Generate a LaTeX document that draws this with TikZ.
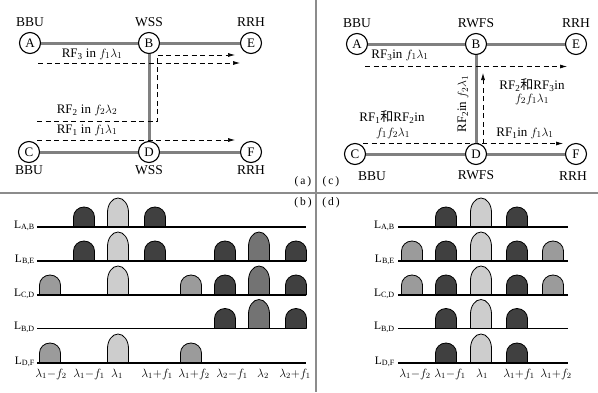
\documentclass[tikz,border=0pt]{standalone}
\usepackage{fontspec}
\setmainfont{Liberation Serif}
\newfontfamily\cjk{Noto Sans CJK SC}
\usetikzlibrary{arrows.meta, positioning}
\definecolor{fibergray}{RGB}{128,128,128}
\definecolor{framegray}{RGB}{140,140,140}
\definecolor{pkdark}{RGB}{64,64,64}
\definecolor{pklight}{RGB}{205,205,205}
\definecolor{pkmid}{RGB}{115,115,115}
\definecolor{pkside}{RGB}{155,155,155}

\begin{document}
\begin{tikzpicture}[
    x=1pt, y=-1pt,
    station/.style={
        circle,
        draw,
        line width=1.1pt,
        inner sep=0pt,
        minimum size=21pt,
        font=\fontsize{13}{15}\selectfont
    },
    tag/.style={font=\fontsize{13.5}{16}\selectfont, inner sep=1pt},
    sig/.style={font=\fontsize{13}{15}\selectfont, inner sep=0pt},
    fiber/.style={line width=3pt, draw=fibergray},
    flow/.style={-{Latex[length=7pt,width=4pt]}, dashed, dash pattern=on 5pt off 3.5pt, line width=0.7pt},
    hump/.style={draw=black, line width=0.8pt, fill=#1},
    axisline/.style={line width=1.3pt},
    lname/.style={anchor=base east, font=\fontsize{11.5}{13}\selectfont, inner sep=0pt},
    freq/.style={anchor=base, font=\fontsize{12}{14}\selectfont, inner sep=0pt},
    panel/.style={font=\fontsize{11.5}{13}\selectfont, inner sep=0pt}
]
    \useasboundingbox (0,0) rectangle (598,392);

    % Frame
    \draw[framegray, line width=1.2pt] (0,193) -- (598,193);
    \draw[framegray, line width=1.2pt] (316,0) -- (316,392);
    \node[panel] (pa) at (303,182) {(\,a\,)};
    \node[panel] (pc) at (331,182) {(\,c\,)};
    \node[panel] (pb) at (303,203) {(\,b\,)};
    \node[panel] (pd) at (331,203) {(\,d\,)};

    % (a) WSS network
    \node[station] (aA) at (30,43) {A};
    \node[station] (aB) at (149,43) {B};
    \node[station] (aE) at (251,43) {E};
    \node[station] (aC) at (29,152) {C};
    \node[station] (aD) at (149,152) {D};
    \node[station] (aF) at (251,152) {F};

    \draw[fiber] (aA) -- (aB);
    \draw[fiber] (aB) -- (aE);
    \draw[fiber] (aC) -- (aD);
    \draw[fiber] (aD) -- (aF);
    \draw[fiber] (aB) -- (aD);

    \node[tag, above=4pt of aA] (aAt) {BBU};
    \node[tag, above=4pt of aB] (aBt) {WSS};
    \node[tag, above=4pt of aE] (aEt) {RRH};
    \node[tag, below=1.5pt of aC] (aCt) {BBU};
    \node[tag, below=1.5pt of aD] (aDt) {WSS};
    \node[tag, below=1.5pt of aF] (aFt) {RRH};

    % (a) signals
    \coordinate (a3s) at (38,63);
    \coordinate (a3e) at (240,63);
    \coordinate (a2s) at (37,121.5);
    \coordinate (a2k) at (157,55);
    \coordinate (a2e) at (235,55);
    \coordinate (a1s) at (37,140);
    \coordinate (a1e) at (235,140);
    \draw[flow] (a3s) -- (a3e);
    \draw[flow] (a2s) -| (a2k) -- (a2e);
    \draw[flow] (a1s) -- (a1e);
    \node[sig] (a3l) at (92,54) {RF\textsubscript{3} in $f_1\lambda_1$};
    \node[sig] (a2l) at (87,110) {RF\textsubscript{2} in $f_2\lambda_2$};
    \node[sig] (a1l) at (87,130) {RF\textsubscript{1} in $f_1\lambda_1$};

    % (c) RWFS network
    \node[station] (cA) at (357,44) {A};
    \node[station] (cB) at (476,44) {B};
    \node[station] (cE) at (576,44) {E};
    \node[station] (cC) at (355,154) {C};
    \node[station] (cD) at (476,154) {D};
    \node[station] (cF) at (576,154) {F};

    \draw[fiber] (cA) -- (cB);
    \draw[fiber] (cB) -- (cE);
    \draw[fiber] (cC) -- (cD);
    \draw[fiber] (cD) -- (cF);
    \draw[fiber] (cB) -- (cD);

    \node[tag, above=4pt of cA] (cAt) {BBU};
    \node[tag, above=4pt of cB] (cBt) {RWFS};
    \node[tag, above=4pt of cE] (cEt) {RRH};
    \node[tag] (cCt) at (372,176) {BBU};
    \node[tag, below=4pt of cD] (cDt) {RWFS};
    \node[tag] (cFt) at (573,176) {RRH};

    % (c) signals
    \coordinate (c3s) at (365,66.5);
    \coordinate (c3e) at (567,66.5);
    \coordinate (c1s) at (363,143.5);
    \coordinate (c1e) at (563,143.5);
    \coordinate (cus) at (483,143.5);
    \coordinate (cue) at (483,73);
    \draw[flow] (c3s) -- (c3e);
    \draw[flow] (c1s) -- (c1e);
    \draw[flow] (cus) -- (cue);
    \node[sig] (c3l) at (400,55) {RF\textsubscript{3}in $f_1\lambda_1$};
    \node[sig, rotate=90] (cvl) at (463,104) {RF\textsubscript{2}in $f_2\lambda_1$};
    \node[sig] (c23l) at (532,85) {RF\textsubscript{2}{\cjk 和}RF\textsubscript{3}in};
    \node[sig] (c23f) at (532,99) {$f_2f_1\lambda_1$};
    \node[sig] (c12l) at (392,117) {RF\textsubscript{1}{\cjk 和}RF\textsubscript{2}in};
    \node[sig] (c12f) at (393,133) {$f_1f_2\lambda_1$};
    \node[sig] (c1l) at (525,133) {RF\textsubscript{1}in $f_1\lambda_1$};

    % (b) spectra
    \foreach \x/\h/\c in {84/20/pkdark, 118/29/pklight, 155/20/pkdark}
        \filldraw[hump=\c] (\x-10.5,227) -- ++(0,-\h/2) arc[start angle=180, end angle=0, x radius=10.5pt, y radius={\h*0.5pt}] -- (\x+10.5,227);
    \foreach \x/\h/\c in {84/20/pkdark, 118/29/pklight, 155/20/pkdark, 225/20/pkdark, 259/29/pkmid, 296/20/pkdark}
        \filldraw[hump=\c] (\x-10.5,261) -- ++(0,-\h/2) arc[start angle=180, end angle=0, x radius=10.5pt, y radius={\h*0.5pt}] -- (\x+10.5,261);
    \foreach \x/\h/\c in {50/20/pkside, 118/29/pklight, 191/20/pkside, 225/20/pkdark, 259/29/pkmid, 296/20/pkdark}
        \filldraw[hump=\c] (\x-10.5,295) -- ++(0,-\h/2) arc[start angle=180, end angle=0, x radius=10.5pt, y radius={\h*0.5pt}] -- (\x+10.5,295);
    \foreach \x/\h/\c in {225/20/pkdark, 259/29/pkmid, 296/20/pkdark}
        \filldraw[hump=\c] (\x-10.5,328.5) -- ++(0,-\h/2) arc[start angle=180, end angle=0, x radius=10.5pt, y radius={\h*0.5pt}] -- (\x+10.5,328.5);
    \foreach \x/\h/\c in {50/20/pkside, 118/29/pklight, 191/20/pkside}
        \filldraw[hump=\c] (\x-10.5,363) -- ++(0,-\h/2) arc[start angle=180, end angle=0, x radius=10.5pt, y radius={\h*0.5pt}] -- (\x+10.5,363);

    \foreach \b/\n [count=\i] in {227/{A,B}, 261/{B,E}, 295/{C,D}, 328.5/{B,D}, 363/{D,F}} {
        \draw[axisline] (37,\b) -- (306,\b);
        \node[lname] (bL\i) at (35,\b+1) {L\textsubscript{\n}};
    }
    \foreach \x/\t [count=\i] in {51/{$\lambda_1{-}f_2$}, 89/{$\lambda_1{-}f_1$}, 117/{$\lambda_1$}, 157/{$\lambda_1{+}f_1$}, 194/{$\lambda_1{+}f_2$}, 232/{$\lambda_2{-}f_1$}, 263/{$\lambda_2$}, 295/{$\lambda_2{+}f_1$}}
        \node[freq] (bx\i) at (\x,377) {\t};

    % (d) spectra
    \foreach \x/\h/\c in {446/20/pkdark, 481/29/pklight, 517/20/pkdark}
        \filldraw[hump=\c] (\x-10.5,227) -- ++(0,-\h/2) arc[start angle=180, end angle=0, x radius=10.5pt, y radius={\h*0.5pt}] -- (\x+10.5,227);
    \foreach \x/\h/\c in {412/20/pkside, 446/20/pkdark, 481/29/pklight, 517/20/pkdark, 553/20/pkside}
        \filldraw[hump=\c] (\x-10.5,261) -- ++(0,-\h/2) arc[start angle=180, end angle=0, x radius=10.5pt, y radius={\h*0.5pt}] -- (\x+10.5,261);
    \foreach \x/\h/\c in {412/20/pkside, 446/20/pkdark, 481/29/pklight, 517/20/pkdark, 553/20/pkside}
        \filldraw[hump=\c] (\x-10.5,295) -- ++(0,-\h/2) arc[start angle=180, end angle=0, x radius=10.5pt, y radius={\h*0.5pt}] -- (\x+10.5,295);
    \foreach \x/\h/\c in {446/20/pkdark, 481/29/pklight, 517/20/pkdark}
        \filldraw[hump=\c] (\x-10.5,328.5) -- ++(0,-\h/2) arc[start angle=180, end angle=0, x radius=10.5pt, y radius={\h*0.5pt}] -- (\x+10.5,328.5);
    \foreach \x/\h/\c in {446/20/pkdark, 481/29/pklight, 517/20/pkdark}
        \filldraw[hump=\c] (\x-10.5,363) -- ++(0,-\h/2) arc[start angle=180, end angle=0, x radius=10.5pt, y radius={\h*0.5pt}] -- (\x+10.5,363);

    \foreach \b/\n [count=\i] in {227/{A,B}, 261/{B,E}, 295/{C,D}, 328.5/{B,D}, 363/{D,F}} {
        \draw[axisline] (398,\b) -- (568,\b);
        \node[lname] (dL\i) at (395,\b+1) {L\textsubscript{\n}};
    }
    \foreach \x/\t [count=\i] in {415/{$\lambda_1{-}f_2$}, 450/{$\lambda_1{-}f_1$}, 482/{$\lambda_1$}, 519/{$\lambda_1{+}f_1$}, 556/{$\lambda_1{+}f_2$}}
        \node[freq] (dx\i) at (\x,377) {\t};
\end{tikzpicture}
\end{document}
